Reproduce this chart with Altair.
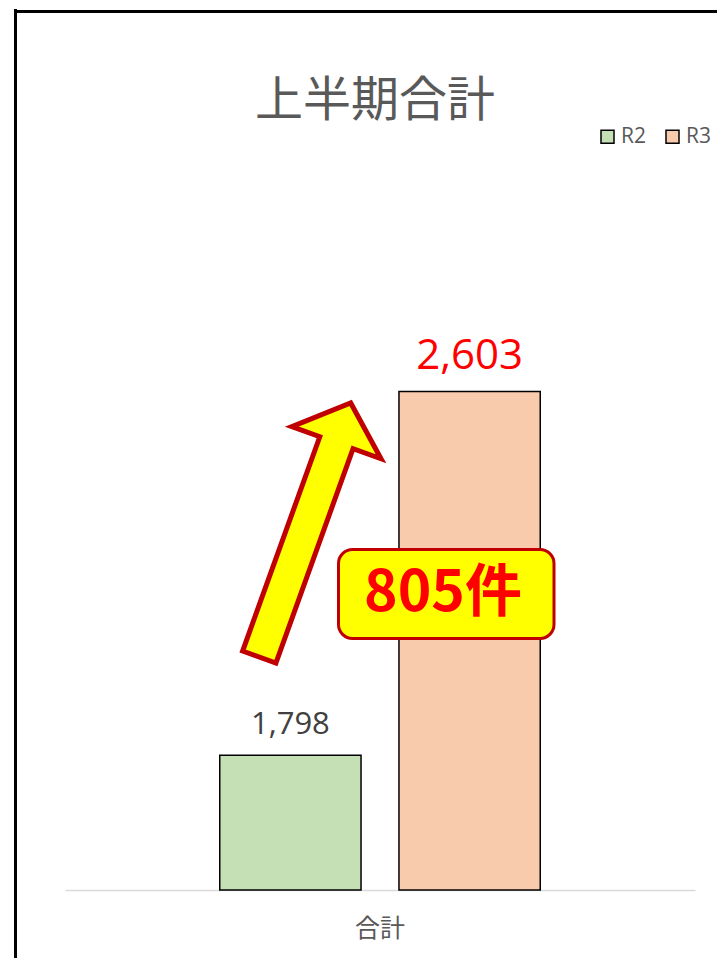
import altair as alt
import pandas as pd

# ---- data ----
category = ["合計", "合計"]
series = ["R2", "R3"]
values = [1798, 2603]
colors = ["#C5E0B4", "#F8CBAD"]
title_text = ["上半期合計"]
diff_label = [f"{values[1] - values[0]}件"]

df = pd.DataFrame({"cat": category, "series": series, "value": values})

W, H = 630, 678
PAD = {"left": 57, "top": 204, "right": 22, "bottom": 68}

x_enc = alt.X("cat:N", axis=alt.Axis(title=None, labelAngle=0, ticks=False, tickSize=0,
                                      domainColor="#D9D9D9", domainWidth=1.5,
                                      labelFontSize=25, labelColor="#595959",
                                      labelFont="Noto Sans CJK JP", labelPadding=26),
              scale=alt.Scale(paddingInner=0, paddingOuter=0))
xo_enc = alt.XOffset("series:N", scale=alt.Scale(paddingInner=0.2117, paddingOuter=0.8635))
y_scale = alt.Scale(domain=[1500, 3000], zero=False, nice=False)

base = alt.Chart(df)

bars = base.mark_bar(stroke="black", strokeWidth=1.5).encode(
    x=x_enc,
    xOffset=xo_enc,
    y=alt.Y("value:Q", scale=y_scale, axis=None),
    y2=alt.datum(1500),
    color=alt.Color("series:N",
                    scale=alt.Scale(domain=series, range=colors),
                    legend=alt.Legend(orient="none", legendX=532, legendY=-86,
                                      direction="horizontal", title=None,
                                      symbolType="square", symbolSize=169,
                                      symbolStrokeColor="black", symbolStrokeWidth=1.5,
                                      symbolOpacity=1,
                                      labelFontSize=21, labelColor="#595959",
                                      labelFont="Open Sans", columnPadding=16,
                                      labelOffset=3)),
)

lab_r2 = base.transform_filter(alt.datum.series == "R2").mark_text(
    baseline="middle", dy=-30, fontSize=31, font="Open Sans", color="#404040"
).encode(x=x_enc, xOffset=xo_enc, y=alt.Y("value:Q", scale=y_scale),
         text=alt.Text("value:Q", format=","))

lab_r3 = base.transform_filter(alt.datum.series == "R3").mark_text(
    baseline="middle", dy=-35, fontSize=42, font="Open Sans", color="#FF0000"
).encode(x=x_enc, xOffset=xo_enc, y=alt.Y("value:Q", scale=y_scale),
         text=alt.Text("value:Q", format=","))

# ---- title as text ----
title = alt.Chart(pd.DataFrame({"t": title_text})).mark_text(
    fontSize=48, font="Noto Sans CJK JP", color="#595959", baseline="middle", align="center"
).encode(x=alt.value(310), y=alt.value(-110), text="t:N")

# ---- annotations ----
arrow_path = ("M 0 -1 L 0.351 -0.687 L 0.131 -0.687 L 0.131 1 "
              "L -0.131 1 L -0.131 -0.687 L -0.351 -0.687 Z")
arrow = alt.Chart(pd.DataFrame({"a": [0]})).mark_point(
    shape=arrow_path, size=270 * 270, angle=19.8, filled=True,
    fill="#FFFF00", stroke="#C00000", strokeWidth=5, strokeJoin="miter", opacity=1
).encode(x=alt.value(240), y=alt.value(318))

box = alt.Chart(pd.DataFrame({"a": [0]})).mark_rect(
    fill="#FFFF00", stroke="#C00000", strokeWidth=3, cornerRadius=14
).encode(x=alt.value(273.5), x2=alt.value(489), y=alt.value(337.5), y2=alt.value(426.5))

box_text = alt.Chart(pd.DataFrame({"t": diff_label})).mark_text(
    fontSize=57, fontWeight="bold", font="Noto Sans CJK JP", color="#FF0000",
    baseline="middle", align="center"
).encode(x=alt.value(378), y=alt.value(382), text="t:N")

# outer frame (left and top edges visible)
frame_left = alt.Chart(pd.DataFrame({"a": [0]})).mark_rule(color="black", strokeWidth=3).encode(
    x=alt.value(-49.5), y=alt.value(-203), y2=alt.value(780))
frame_top = alt.Chart(pd.DataFrame({"a": [0]})).mark_rule(color="black", strokeWidth=3).encode(
    x=alt.value(-51), x2=alt.value(680), y=alt.value(-200.5))

chart = alt.layer(bars, lab_r2, lab_r3, title, arrow, box, box_text, frame_left, frame_top).properties(
    width=W, height=H,
    autosize=alt.AutoSizeParams(type="none"),
    padding=PAD,
).configure_view(stroke=None)

chart.save("out.html", embed_options={"renderer": "svg", "actions": False})
